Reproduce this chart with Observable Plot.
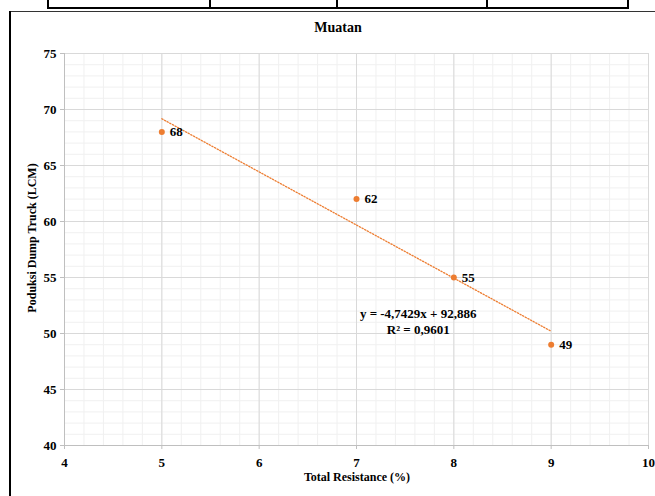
<!DOCTYPE html>
<html><head><meta charset="utf-8">
<script src="https://cdn.jsdelivr.net/npm/d3@7"></script>
<script src="https://cdn.jsdelivr.net/npm/@observablehq/plot@0.6"></script>
<style>
body{margin:0;background:#fff;}
#wrap{position:relative;width:655px;height:496px;overflow:hidden;font-family:"Liberation Serif","Times New Roman",serif;font-weight:bold;color:#000;}
#chart{position:absolute;left:0;top:0;}
.ln{position:absolute;background:#000;}
.lbl{position:absolute;white-space:nowrap;}
</style></head><body>
<div id="wrap">
  <div id="chart"></div>
  <!-- table fragment at the top -->
  <div class="ln" style="left:47px;top:7px;width:582px;height:2px"></div>
  <div class="ln" style="left:47px;top:0;width:2px;height:9px"></div>
  <div class="ln" style="left:209px;top:0;width:2px;height:9px"></div>
  <div class="ln" style="left:336px;top:0;width:2px;height:9px"></div>
  <div class="ln" style="left:486px;top:0;width:2px;height:9px"></div>
  <div class="ln" style="left:627px;top:0;width:2px;height:9px"></div>
  <!-- chart box border -->
  <div class="ln" style="left:9px;top:11px;width:650px;height:1px;background:#333"></div>
  <div class="ln" style="left:9px;top:11px;width:2px;height:490px"></div>
  <div class="lbl" id="title" style="left:338px;top:20px;transform:translateX(-50%);font-size:14px">Muatan</div>
  <div class="lbl" id="xlab" style="left:357px;top:470px;transform:translateX(-50%);font-size:12px">Total Resistance (%)</div>
  <div class="lbl" id="ylab" style="left:32px;top:238px;transform:translate(-50%,-50%) rotate(-90deg);font-size:12px">Poduksi Dump Truck (LCM)</div>
</div>
<script>
const resistance = [5, 7, 8, 9];
const produksi = [68, 62, 55, 49];
const trendX = [5, 9];
const trendY = [69.17, 50.2];
const xTicks = [4, 5, 6, 7, 8, 9, 10];
const yTicks = [40, 45, 50, 55, 60, 65, 70, 75];
const equationText = "y = -4,7429x + 92,886\nR² = 0,9601";

const points = resistance.map((x, i) => ({x, y: produksi[i]}));
const trend = trendX.map((x, i) => ({x, y: trendY[i]}));
const minorX = d3.range(40, 101, 2).map(v => v / 10);
const minorY = d3.range(40, 76, 1);
const orange = "#ed7d31";

const chart = Plot.plot({
  width: 655, height: 496,
  marginLeft: 64, marginRight: 7, marginTop: 53, marginBottom: 51,
  style: {fontFamily: '"Liberation Serif", serif', fontWeight: "bold", fontSize: "13px", color: "#000", background: "transparent"},
  x: {domain: [4, 10], ticks: xTicks, tickSize: 4, tickPadding: 8, label: null, tickFormat: d => d},
  y: {domain: [40, 75], ticks: yTicks, tickSize: 4, tickPadding: 4, label: null, tickFormat: d => d},
  marks: [
    Plot.ruleX(minorX, {stroke: "#f0f0f0", strokeWidth: 1}),
    Plot.ruleY(minorY, {stroke: "#f0f0f0", strokeWidth: 1}),
    Plot.ruleX(xTicks, {stroke: "#d9d9d9", strokeWidth: 1}),
    Plot.ruleY(yTicks, {stroke: "#d9d9d9", strokeWidth: 1}),
    Plot.ruleY([40], {stroke: "#bfbfbf", strokeWidth: 1}),
    Plot.ruleX([4], {stroke: "#bfbfbf", strokeWidth: 1}),
    Plot.axisX({ticks: xTicks, tickSize: 4, tickPadding: 8, stroke: "#bfbfbf", fill: "#000", fontSize: 13, tickFormat: d => d}),
    Plot.axisY({ticks: yTicks, tickSize: 4, tickPadding: 4, stroke: "#bfbfbf", fill: "#000", fontSize: 13, tickFormat: d => d}),
    Plot.line(trend, {x: "x", y: "y", stroke: orange, strokeWidth: 1.3, strokeDasharray: "1.3,1.7"}),
    Plot.dot(points, {x: "x", y: "y", r: 3, fill: orange, stroke: "none"}),
    Plot.text(points, {x: "x", y: "y", text: d => String(d.y), dx: 8, textAnchor: "start", fontSize: 13, fill: "#000"}),
    Plot.text([{x: 7.634, y: 51.1}], {x: "x", y: "y", text: () => equationText, lineHeight: 1.2, fontSize: 13, fill: "#000", textAnchor: "middle"})
  ]
});
document.getElementById("chart").appendChild(chart);
</script>
</body></html>
